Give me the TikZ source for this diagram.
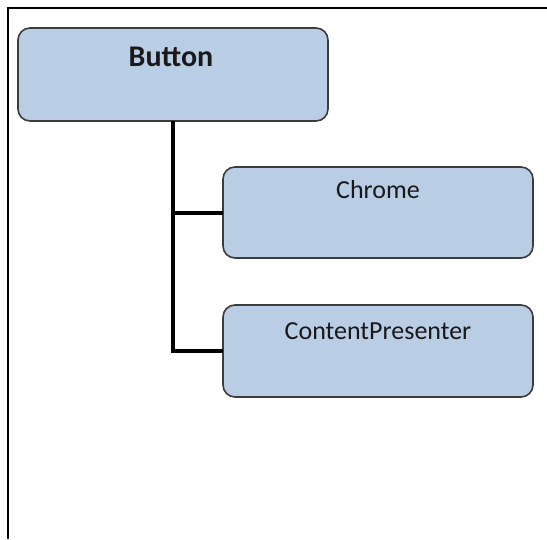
\documentclass[tikz,border=0pt]{standalone}
\usepackage{fontspec}
\setmainfont{Carlito}
\definecolor{boxfill}{RGB}{185,205,229}
\definecolor{boxline}{RGB}{60,60,60}
\tikzset{
  x=1pt, y=-1pt,
  part/.style={draw=boxline, line width=1.6pt, fill=boxfill, rounded corners=12pt,
    inner sep=0pt, outer sep=0pt},
  caption/.style={anchor=base, inner sep=0pt, text=black!90},
  tree/.style={line width=4pt, draw=black},
  frameline/.style={line width=2.5pt, draw=black}
}
\begin{document}
\begin{tikzpicture}
\useasboundingbox (0,0) rectangle (547,539);
% page frame: top and left rules only
\coordinate (ftop) at (547,8);
\coordinate (fcorner) at (8,8);
\coordinate (fbottom) at (8,539);
\draw[frameline] (ftop) -- (fcorner) -- (fbottom);

% boxes
\node[part, minimum width=310pt, minimum height=93pt] (button) at (173,74.5) {};
\node[part, minimum width=310pt, minimum height=91pt] (chrome) at (378,212.5) {};
\node[part, minimum width=310pt, minimum height=92pt] (cp) at (378,351) {};

% captions
\node[caption, font=\fontsize{30}{36}\selectfont\bfseries] (buttontext) at (171,66) {Button};
\node[caption, font=\fontsize{26}{31}\selectfont] (chrometext) at (378,198) {Chrome};
\node[caption, font=\fontsize{26}{31}\selectfont] (cptext) at (378,339) {ContentPresenter};

% tree connectors
\draw[tree] (button.south) |- (cp.west);
\draw[tree] (button.south |- chrome.west) -- (chrome.west);
\end{tikzpicture}
\end{document}
